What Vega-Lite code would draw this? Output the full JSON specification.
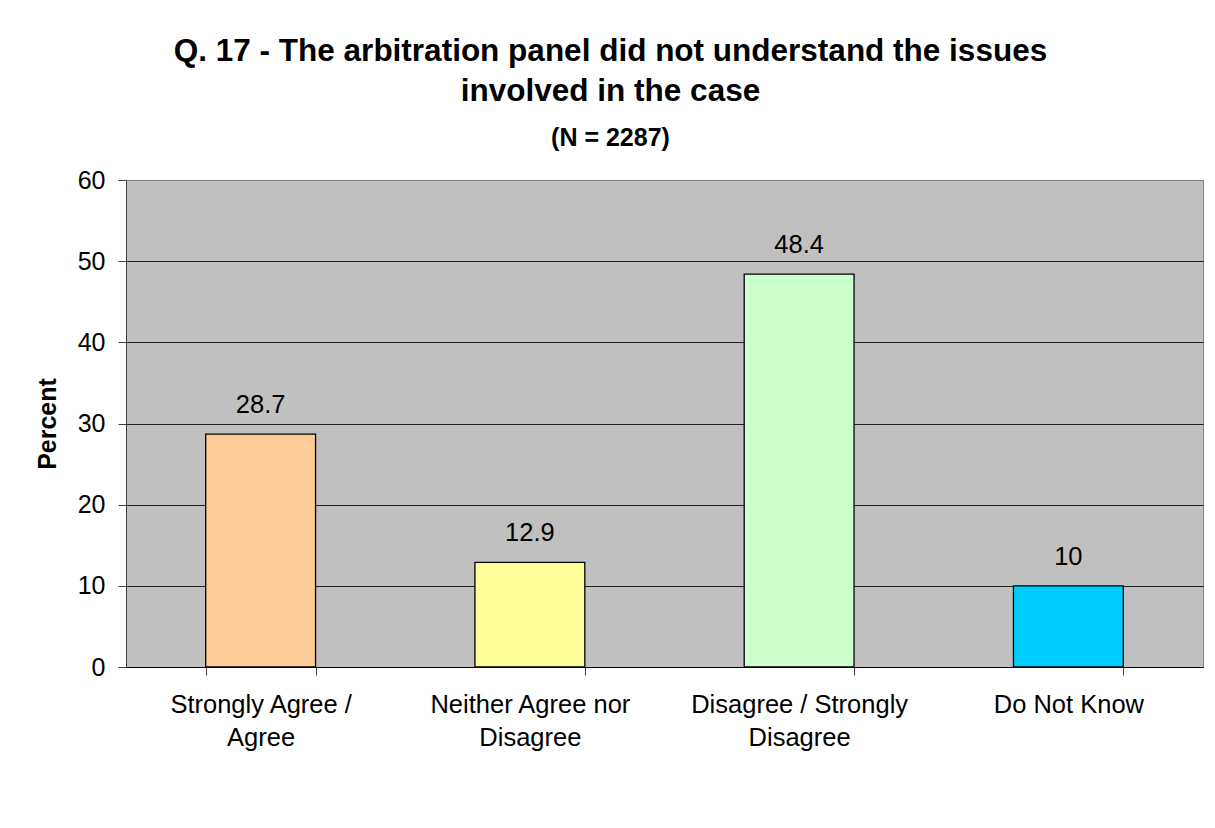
{
  "$schema": "https://vega.github.io/schema/vega-lite/v6.json",
  "autosize": "none",
  "width": 1077,
  "height": 487,
  "padding": {"left": 126, "top": 180, "right": 12, "bottom": 161},
  "background": "white",
  "config": {
    "font": "Liberation Sans",
    "view": {"stroke": "#808080", "strokeWidth": 1, "fill": "#C0C0C0"}
  },
  "title": {
    "text": ["Q. 17 - The arbitration panel did not understand the issues", "involved in the case"],
    "subtitle": "(N = 2287)",
    "font": "Liberation Sans",
    "fontSize": 31.5,
    "fontWeight": "bold",
    "color": "black",
    "lineHeight": 40,
    "subtitleFont": "Liberation Sans",
    "subtitleFontSize": 25,
    "subtitleFontWeight": "bold",
    "subtitleColor": "black",
    "subtitlePadding": 19,
    "anchor": "middle",
    "dx": -54,
    "offset": 17
  },
  "data": {
    "values": [
      {"category": "Strongly Agree / Agree", "percent": 28.7},
      {"category": "Neither Agree nor Disagree", "percent": 12.9},
      {"category": "Disagree / Strongly Disagree", "percent": 48.4},
      {"category": "Do Not Know", "percent": 10}
    ]
  },
  "encoding": {
    "x": {
      "field": "category",
      "type": "nominal",
      "sort": null,
      "scale": {"paddingInner": 0.592, "paddingOuter": 0.296},
      "axis": {
        "title": null,
        "labelAngle": 0,
        "labelFont": "Liberation Sans",
        "labelFontSize": 25.5,
        "labelColor": "black",
        "labelLineHeight": 33,
        "labelPadding": 17,
        "labelBaseline": "top",
        "labelLimit": 0,
        "tickBand": "extent",
        "tickSize": 8,
        "tickColor": "#404040",
        "domainColor": "black",
        "domainWidth": 1,
        "labelExpr": "datum.value == 'Strongly Agree / Agree' ? ['Strongly Agree /', 'Agree'] : datum.value == 'Neither Agree nor Disagree' ? ['Neither Agree nor', 'Disagree'] : datum.value == 'Disagree / Strongly Disagree' ? ['Disagree / Strongly', 'Disagree'] : datum.value"
      }
    },
    "y": {
      "field": "percent",
      "type": "quantitative",
      "scale": {"domain": [0, 60], "nice": false},
      "axis": {
        "title": "Percent",
        "titleFont": "Liberation Sans",
        "titleFontSize": 25,
        "titleFontWeight": "bold",
        "titleColor": "black",
        "titlePadding": 17,
        "values": [0, 10, 20, 30, 40, 50, 60],
        "labelFont": "Liberation Sans",
        "labelFontSize": 25,
        "labelColor": "black",
        "labelPadding": 13,
        "tickSize": 8,
        "tickColor": "#404040",
        "domainColor": "#404040",
        "grid": true,
        "gridColor": {"condition": {"test": "datum.value === 60", "value": "#808080"}, "value": "#202020"},
        "gridWidth": 1
      }
    }
  },
  "layer": [
    {
      "mark": {"type": "bar", "stroke": "black", "strokeWidth": 1.3},
      "encoding": {
        "color": {
          "field": "category",
          "type": "nominal",
          "sort": null,
          "scale": {"range": ["#FFCC99", "#FFFF99", "#CCFFCC", "#00CCFF"]},
          "legend": null
        }
      }
    },
    {
      "mark": {"type": "text", "font": "Liberation Sans", "fontSize": 25.5, "color": "black", "baseline": "alphabetic", "dy": -21},
      "encoding": {
        "text": {"field": "percent", "type": "quantitative"}
      }
    }
  ]
}
